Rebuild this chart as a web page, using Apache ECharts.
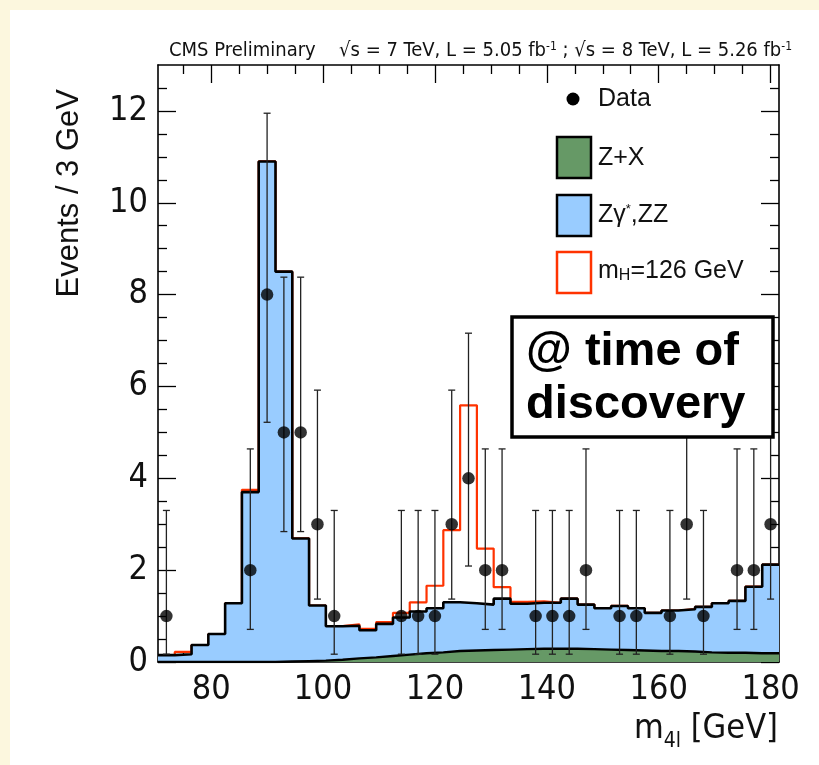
<!DOCTYPE html>
<html>
<head>
<meta charset="utf-8">
<script src="https://cdn.jsdelivr.net/npm/echarts@6/dist/echarts.min.js"></script>
<style>
  html, body { margin: 0; padding: 0; }
  body { width: 819px; height: 765px; background: #fcf7de; position: relative; overflow: hidden; }
  #panel { position: absolute; left: 10px; top: 10px; right: 0; bottom: 0; background: #ffffff; }
  #chart { position: absolute; left: 0; top: 0; width: 819px; height: 765px; }
</style>
</head>
<body>
<div id="panel"></div>
<div id="chart"></div>
<script>
// Four-lepton invariant mass, 3 GeV bins from 70.5 to 181.5 GeV
const binCenters = [72, 75, 78, 81, 84, 87, 90, 93, 96, 99, 102, 105, 108, 111, 114, 117, 120, 123, 126,
                    129, 132, 135, 138, 141, 144, 147, 150, 153, 156, 159, 162, 165, 168, 171, 174, 177, 180];

// Reducible background Z+X (events / bin)
const zxValues = [0, 0, 0, 0, 0, 0, 0, 0.01, 0.02, 0.03, 0.05, 0.08, 0.10, 0.13, 0.16, 0.19, 0.21, 0.24, 0.25,
                  0.26, 0.27, 0.28, 0.29, 0.29, 0.29, 0.28, 0.27, 0.26, 0.25, 0.24, 0.24, 0.23, 0.21, 0.20, 0.20, 0.19, 0.19];

// Irreducible background Zgamma*, ZZ (events / bin)
const zzValues = [0.15, 0.17, 0.37, 0.61, 1.28, 3.70, 10.90, 8.49, 2.67, 1.20, 0.73, 0.71, 0.59, 0.70, 0.81, 0.91, 0.96, 1.06, 1.03,
                  0.99, 1.11, 0.99, 1.00, 1.00, 1.09, 0.97, 0.90, 0.96, 0.92, 0.83, 0.88, 0.92, 0.99, 1.08, 1.13, 1.45, 1.93];

// Expected signal for mH = 126 GeV, stacked on the backgrounds
const higgsValues = [0, 0.05, 0, 0, 0, 0.05, 0, 0, 0, 0, 0, 0.03, 0.03, 0.04, 0.10, 0.20, 0.49, 1.57, 4.31,
                     1.22, 0.25, 0.04, 0.03, 0, 0, 0, 0, 0, 0, 0, 0, 0, 0, 0, 0, 0, 0];

// Observed events with asymmetric Poisson intervals
const dataMass   = [72, 87, 90, 93, 96, 99, 102, 114, 117, 120, 123, 126, 129, 132, 138, 141, 144, 147, 153, 156, 162, 165, 168, 174, 177, 180];
const dataCounts = [1, 2, 8, 5, 5, 3, 1, 1, 1, 1, 3, 4, 2, 2, 1, 1, 1, 2, 1, 1, 1, 3, 1, 2, 2, 3];
const errLow     = [0.17, 0.71, 5.22, 2.84, 2.84, 1.37, 0.17, 0.17, 0.17, 0.17, 1.37, 2.09, 0.71, 0.71, 0.17, 0.17, 0.17, 0.71, 0.17, 0.17, 0.17, 1.37, 0.17, 0.71, 0.71, 1.37];
const errHigh    = [3.30, 4.64, 11.95, 8.38, 8.38, 5.92, 3.30, 3.30, 3.30, 3.30, 5.92, 7.16, 4.64, 4.64, 3.30, 3.30, 3.30, 4.64, 3.30, 3.30, 3.30, 5.92, 3.30, 4.64, 4.64, 5.92];

// Axis tick labels
const xTickLabels = [80, 100, 120, 140, 160, 180];
const yTickLabels = [0, 2, 4, 6, 8, 10, 12];

const BIN_HALF = 1.5;
const X_MIN = 70.5, X_MAX = 181.5, Y_MIN = 0, Y_MAX = 13;

const NARROW = "'Liberation Sans Narrow', 'DejaVu Sans Condensed', 'Liberation Sans', sans-serif";
const SANS = "'Liberation Sans', Arial, sans-serif";

// Step-histogram outline: value of each bin held from its low edge to its high edge
function stepPoints(values) {
  const pts = binCenters.map((c, i) => [c - BIN_HALF, values[i]]);
  pts.push([binCenters[binCenters.length - 1] + BIN_HALF, values[values.length - 1]]);
  return pts;
}

const bkgTotal = zzValues.map((v, i) => +(v + zxValues[i]).toFixed(3));
const withSignal = bkgTotal.map((v, i) => +(v + higgsValues[i]).toFixed(3));

// minor tick positions
const xMinor = [];
for (let v = 75; v <= 180; v += 5) if (xTickLabels.indexOf(v) < 0) xMinor.push(v);
const yMinor = [];
for (let v = 0.5; v <= 12.5; v += 0.5) if (yTickLabels.indexOf(v) < 0) yMinor.push(v);

function xAxisDef(position, ticks, len, withLabels, withLine) {
  return {
    type: 'value', gridIndex: 0, position: position, min: X_MIN, max: X_MAX,
    axisLine: { show: withLine, onZero: false, lineStyle: { color: '#000', width: 1.6 } },
    axisTick: { show: true, inside: true, length: len, customValues: ticks, lineStyle: { color: '#000', width: 1.3 } },
    axisLabel: withLabels ? {
      show: true, customValues: ticks, margin: 11, color: '#111',
      fontFamily: NARROW, fontSize: 34
    } : { show: false },
    splitLine: { show: false }, minorTick: { show: false }
  };
}
function yAxisDef(position, ticks, len, withLabels, withLine) {
  return {
    type: 'value', gridIndex: 0, position: position, min: Y_MIN, max: Y_MAX,
    axisLine: { show: withLine, onZero: false, lineStyle: { color: '#000', width: 1.6 } },
    axisTick: { show: true, inside: true, length: len, customValues: ticks, lineStyle: { color: '#000', width: 1.3 } },
    axisLabel: withLabels ? {
      show: true, customValues: ticks, margin: 10, color: '#111',
      fontFamily: NARROW, fontSize: 34
    } : { show: false },
    splitLine: { show: false }, minorTick: { show: false }
  };
}

const xMain = xAxisDef('bottom', xTickLabels, 18, true, true);
xMain.name = '{m|m}{sub|4l}{m| [GeV]}';
xMain.nameLocation = 'end';
xMain.nameGap = -1;
xMain.nameTextStyle = {
  align: 'right', verticalAlign: 'top', padding: [50, 0, 0, 0],
  rich: {
    m: { fontFamily: NARROW, fontSize: 34, color: '#111', lineHeight: 40, verticalAlign: 'top' },
    sub: { fontFamily: NARROW, fontSize: 21, color: '#111', lineHeight: 22, verticalAlign: 'bottom' }
  }
};

const chart = echarts.init(document.getElementById('chart'), null, { renderer: 'canvas' });

chart.setOption({
  animation: false,
  backgroundColor: 'transparent',
  title: [
    {
      text: 'CMS Preliminary', left: 164, top: 36,
      textStyle: { fontFamily: NARROW, fontSize: 20, fontWeight: 'normal', color: '#111' }
    },
    {
      text: '√s = 7 TeV, L = 5.05 fb{sup|-1} ; √s = 8 TeV, L = 5.26 fb{sup|-1}', right: 22, top: 36,
      textStyle: {
        fontFamily: NARROW, fontSize: 20, fontWeight: 'normal', color: '#111',
        rich: { sup: { fontFamily: NARROW, fontSize: 12, color: '#111', verticalAlign: 'top', lineHeight: 12 } }
      }
    }
  ],
  grid: { left: 158, right: 40, top: 65, bottom: 103 },
  xAxis: [
    xMain,
    xAxisDef('bottom', xMinor, 9, false, false),
    xAxisDef('top', xTickLabels, 18, false, true),
    xAxisDef('top', xMinor, 9, false, false)
  ],
  yAxis: [
    yAxisDef('left', yTickLabels, 18, true, true),
    yAxisDef('left', yMinor, 9, false, false),
    yAxisDef('right', yTickLabels, 18, false, true),
    yAxisDef('right', yMinor, 9, false, false)
  ],
  series: [
    {
      name: 'mH=126 GeV', type: 'line', step: 'end', silent: true, z: 1,
      showSymbol: false, data: stepPoints(withSignal),
      lineStyle: { color: '#ff3300', width: 2.2 }
    },
    {
      name: 'Zγ*,ZZ', type: 'line', step: 'end', silent: true, z: 2,
      showSymbol: false, data: stepPoints(bkgTotal),
      lineStyle: { color: '#000', width: 2.6 },
      areaStyle: { color: '#99ccff', opacity: 1 }
    },
    {
      name: 'Z+X', type: 'line', step: 'end', silent: true, z: 3,
      showSymbol: false, data: stepPoints(zxValues),
      lineStyle: { color: '#000', width: 2.4 },
      areaStyle: { color: '#669966', opacity: 1 }
    },
    {
      name: 'Data uncertainty', type: 'custom', silent: true, z: 4,
      data: dataMass.map((m, i) => [m, errLow[i], errHigh[i]]),
      encode: { x: 0, y: [1, 2] },
      renderItem: function (params, api) {
        const x = api.value(0);
        const lo = api.coord([x, api.value(1)]);
        const hi = api.coord([x, api.value(2)]);
        const w = 3.5;
        const st = { stroke: '#222', lineWidth: 1.3 };
        return {
          type: 'group',
          children: [
            { type: 'line', shape: { x1: lo[0], y1: lo[1], x2: hi[0], y2: hi[1] }, style: st },
            { type: 'line', shape: { x1: hi[0] - w, y1: hi[1], x2: hi[0] + w, y2: hi[1] }, style: st },
            { type: 'line', shape: { x1: lo[0] - w, y1: lo[1], x2: lo[0] + w, y2: lo[1] }, style: st }
          ]
        };
      }
    },
    {
      name: 'Data', type: 'scatter', silent: true, z: 5,
      symbol: 'circle', symbolSize: 12.5,
      itemStyle: { color: '#000' },
      data: dataMass.map((m, i) => [m, dataCounts[i]])
    }
  ],
  graphic: [
    // y-axis title
    {
      type: 'text', x: 69, y: 89, rotation: Math.PI / 2, z: 10,
      style: { text: 'Events / 3 GeV', fontFamily: SANS, fontSize: 31, fill: '#111', align: 'right', verticalAlign: 'middle' }
    },
    // legend
    { type: 'circle', shape: { cx: 573, cy: 99, r: 6.5 }, style: { fill: '#000' }, z: 10 },
    { type: 'text', x: 598, y: 99, z: 10, style: { text: 'Data', fontFamily: SANS, fontSize: 25, fill: '#111', verticalAlign: 'middle' } },
    { type: 'rect', shape: { x: 557, y: 137, width: 34, height: 41 }, style: { fill: '#669966', stroke: '#000', lineWidth: 2.5 }, z: 10 },
    { type: 'text', x: 598, y: 158, z: 10, style: { text: 'Z+X', fontFamily: SANS, fontSize: 25, fill: '#111', verticalAlign: 'middle' } },
    { type: 'rect', shape: { x: 557, y: 195, width: 34, height: 41 }, style: { fill: '#99ccff', stroke: '#000', lineWidth: 2.5 }, z: 10 },
    {
      type: 'text', x: 598, y: 215, z: 10,
      style: {
        text: 'Zγ{sup|*},ZZ', fontFamily: SANS, fontSize: 25, fill: '#111', verticalAlign: 'middle',
        rich: { sup: { fontFamily: SANS, fontSize: 13, fill: '#111', verticalAlign: 'top', lineHeight: 12 } }
      }
    },
    { type: 'rect', shape: { x: 557, y: 252, width: 34, height: 41 }, style: { fill: '#fff', stroke: '#ff3300', lineWidth: 2.5 }, z: 10 },
    {
      type: 'text', x: 598, y: 271, z: 10,
      style: {
        text: 'm{sub|H}=126 GeV', fontFamily: SANS, fontSize: 25, fill: '#111', verticalAlign: 'middle',
        rich: { sub: { fontFamily: SANS, fontSize: 16, fill: '#111', verticalAlign: 'bottom', lineHeight: 16 } }
      }
    },
    // annotation box
    { type: 'rect', shape: { x: 512, y: 317, width: 261, height: 120 }, style: { fill: '#fff', stroke: '#000', lineWidth: 3.5 }, z: 11 },
    {
      type: 'text', x: 526, y: 352, z: 12,
      style: { text: '@ time of', fontFamily: SANS, fontWeight: 'bold', fontSize: 47, fill: '#000', verticalAlign: 'middle' }
    },
    {
      type: 'text', x: 526, y: 405, z: 12,
      style: { text: 'discovery', fontFamily: SANS, fontWeight: 'bold', fontSize: 47, fill: '#000', verticalAlign: 'middle' }
    }
  ]
});
</script>
</body>
</html>
